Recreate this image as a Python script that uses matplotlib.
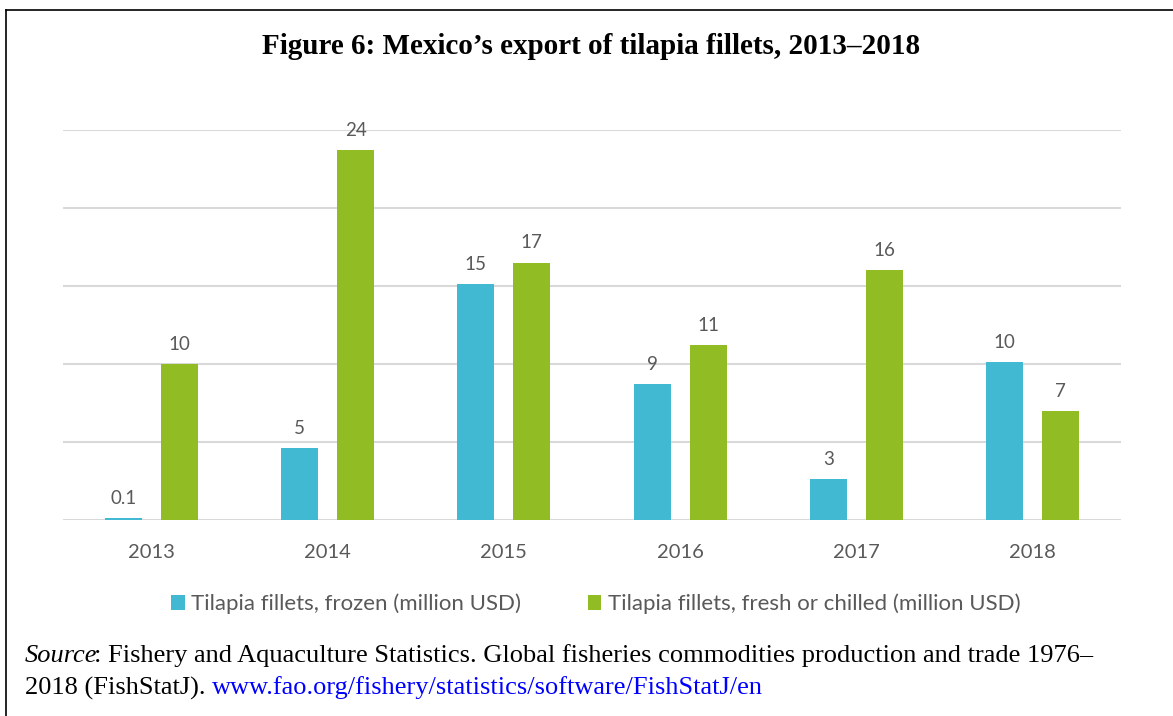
import matplotlib
matplotlib.use("Agg")
import matplotlib.pyplot as plt
from matplotlib.lines import Line2D
import numpy as np

years = ["2013", "2014", "2015", "2016", "2017", "2018"]
frozen = [0.1, 4.6, 15.1, 8.7, 2.6, 10.1]
fresh = [10.0, 23.7, 16.5, 11.2, 16.0, 7.0]
frozen_labels = ["0.1", "5", "15", "9", "3", "10"]
fresh_labels = ["10", "24", "17", "11", "16", "7"]
series_names = ["Tilapia fillets, frozen (million USD)",
                "Tilapia fillets, fresh or chilled (million USD)"]

c_frozen = "#41B9D3"
c_fresh = "#92BC23"
gray = "#595959"

W, H = 1173, 716
fig = plt.figure(figsize=(W/100, H/100), dpi=100)
ax = fig.add_axes([63/W, 1-520/H, 1058/W, 390/H])

x = np.arange(len(years))
w = 0.21
off = 0.159
b1 = ax.bar(x - off, frozen, w, color=c_frozen, label=series_names[0], zorder=3)
b2 = ax.bar(x + off, fresh, w, color=c_fresh, label=series_names[1], zorder=3)

for bars, labs in ((b1, frozen_labels), (b2, fresh_labels)):
    for r, t in zip(bars, labs):
        ax.annotate(t, (r.get_x() + r.get_width()/2, r.get_height()),
                    xytext=(0, 8), textcoords="offset points",
                    ha="center", va="bottom", fontsize=13.5, color=gray,
                    family="Lato")

ax.set_xlim(-0.5, len(years) - 0.5)
ax.set_ylim(0, 25)
ax.set_yticks(np.arange(0, 26, 5))
ax.yaxis.grid(True, color="#D9D9D9", linewidth=1.5, zorder=0)
ax.tick_params(axis="y", left=False, labelleft=False)
ax.tick_params(axis="x", bottom=False, pad=14)
ax.set_xticks(x)
ax.set_xticklabels(years, fontsize=14.5, color=gray, family="Lato")
for s in ax.spines.values():
    s.set_visible(False)

fig.legend(handles=[b1, b2], labels=series_names, loc="center",
           bbox_to_anchor=(596/W, 1-604/H), ncol=2, frameon=False,
           prop={"family": "Lato", "size": 16}, labelcolor=gray,
           handlelength=0.6, handleheight=0.6, handletextpad=0.3,
           columnspacing=3.0)

fig.text(591/W, 1-47/H, "Figure 6: Mexico\u2019s export of tilapia fillets, 2013\u20132018",
         ha="center", va="center", fontsize=21, fontweight="bold",
         family="Liberation Serif")

fs = 19
t1 = fig.text(25/W, 1-656/H, "Source", ha="left", va="center", fontsize=fs,
              family="Liberation Serif", style="italic")
fig.canvas.draw()
bb = t1.get_window_extent()
fig.text((bb.x1 - 3)/W, 1-656/H,
         ": Fishery and Aquaculture Statistics. Global fisheries commodities production and trade 1976\u2013",
         ha="left", va="center", fontsize=fs, family="Liberation Serif")
t2 = fig.text(25/W, 1-688/H, "2018 (FishStatJ). ", ha="left", va="center",
              fontsize=fs, family="Liberation Serif")
fig.canvas.draw()
bb2 = t2.get_window_extent()
fig.text(bb2.x1/W, 1-688/H, "www.fao.org/fishery/statistics/software/FishStatJ/en",
         ha="left", va="center", fontsize=fs, family="Liberation Serif", color="#0000FF")

# frame
fig.add_artist(Line2D([6/W, 6/W], [0, 1-10/H], color="black", linewidth=1.2,
                      transform=fig.transFigure))
fig.add_artist(Line2D([6/W, 1], [1-10/H, 1-10/H], color="black", linewidth=1.2,
                      transform=fig.transFigure))

fig.savefig("out.png", dpi=100)
